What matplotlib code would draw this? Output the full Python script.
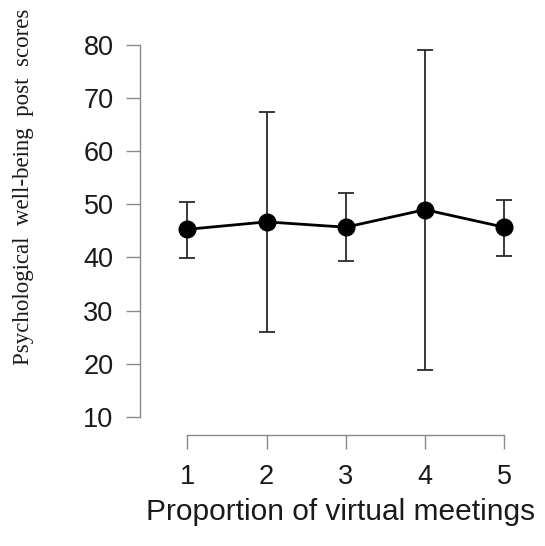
import numpy as np
import matplotlib
matplotlib.use("Agg")
import matplotlib.pyplot as plt

# mean post scores and interval ends per proportion level
levels = [1, 2, 3, 4, 5]
means = [45.3, 46.7, 45.7, 49.0, 45.7]
upper = [50.5, 67.3, 52.1, 79.1, 50.9]
lower = [39.9, 26.0, 39.3, 18.9, 40.3]
y_ticks = [10, 20, 30, 40, 50, 60, 70, 80]

plt.rcParams['font.family'] = ['Liberation Sans', 'DejaVu Sans']

means_arr = np.array(means)
yerr = np.array([means_arr - np.array(lower), np.array(upper) - means_arr])

fig = plt.figure(figsize=(5.45, 5.46), dpi=100)
ax = fig.add_axes([0.2569, 0.2033, 0.6972, 0.7418])

ax.errorbar(levels, means, yerr=yerr, fmt='none', ecolor='#2a2a2a',
            elinewidth=1.3, capsize=5.5, capthick=1.3, zorder=2)
ax.plot(levels, means, color='black', linewidth=2, marker='o',
        markersize=12, zorder=3)

ax.set_xlim(0.403, 5.2)
ax.set_ylim(6.61, 82.8)

# base-R style detached axes
for side in ['top', 'right']:
    ax.spines[side].set_visible(False)
for side in ['left', 'bottom']:
    ax.spines[side].set_color('#8a8a8a')
    ax.spines[side].set_linewidth(1.0)
ax.spines['left'].set_bounds(10, 80)
ax.spines['bottom'].set_bounds(1, 5)

ax.set_xticks(levels)
ax.set_yticks(y_ticks)
ax.tick_params(axis='both', colors='#8a8a8a', length=10, width=1.0,
               labelcolor='#1a1a1a', labelsize=19.5, pad=9)
ax.tick_params(axis='x', pad=11)

fig.text(341 / 545, 0.0476, 'Proportion of virtual meetings',
         ha='center', va='baseline', fontsize=21.5, color='#1a1a1a')
fig.text(24 / 545, 0.6575, 'Psychological  well-being  post  scores',
         rotation=90, ha='center', va='center', fontsize=16.5,
         family=['Liberation Serif', 'DejaVu Serif'], color='#1a1a1a')

fig.savefig('out.png', dpi=100)
